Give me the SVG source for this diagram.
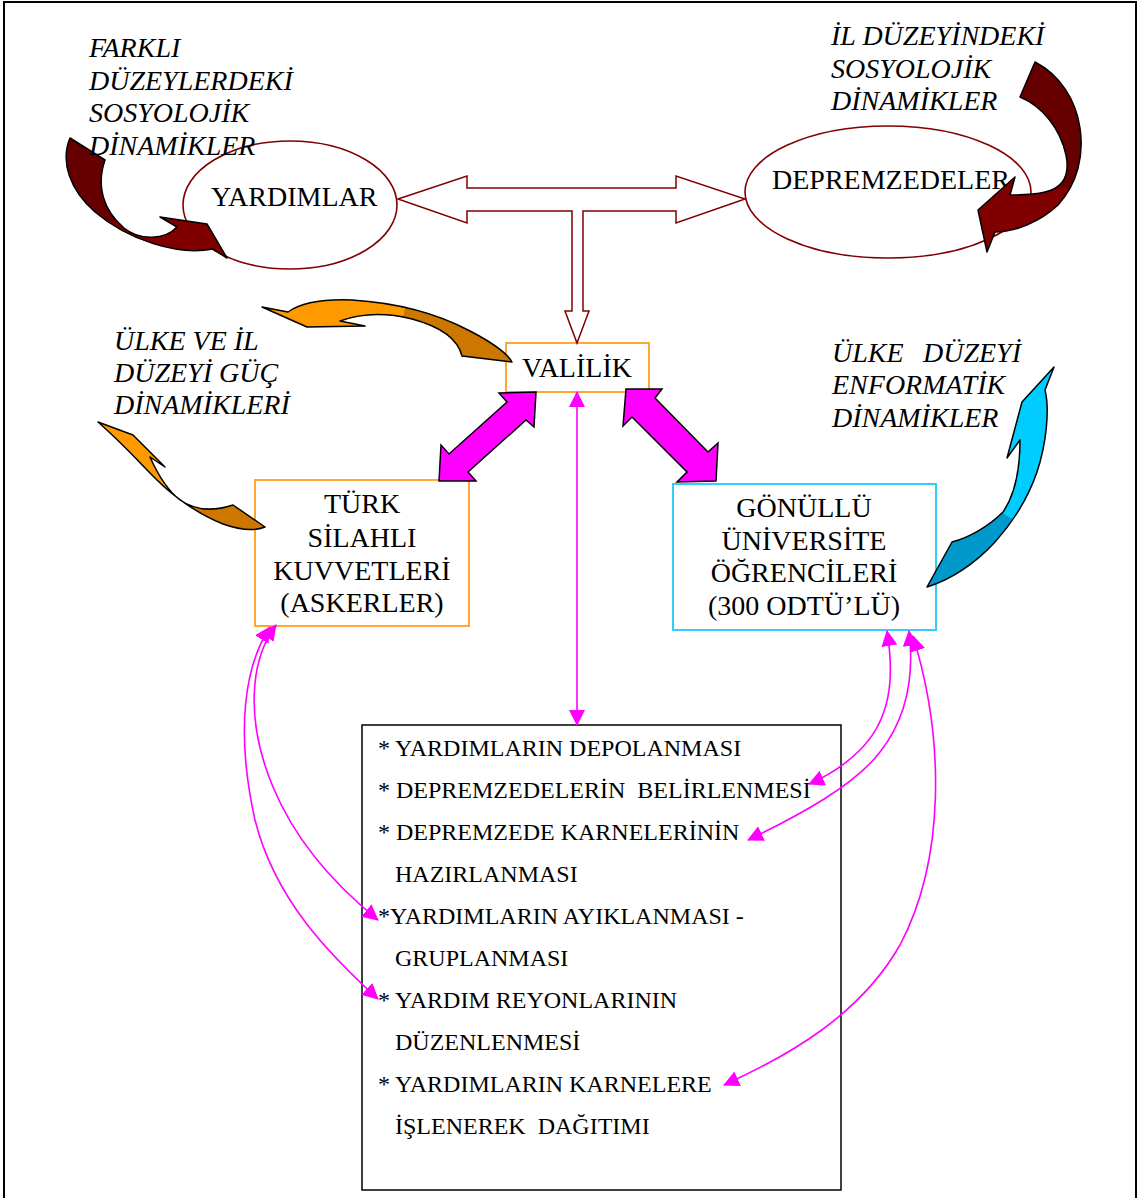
<svg xmlns="http://www.w3.org/2000/svg" width="1137" height="1198" viewBox="0 0 1137 1198">
<style>
.t{font-family:"Liberation Serif","Times New Roman",serif;fill:#000}
.it{font-family:"Liberation Serif","Times New Roman",serif;font-style:italic;font-size:28px;fill:#000}
.big{font-size:28px}
.lst{font-size:24px}
.ell{fill:#fff;stroke:#800000;stroke-width:1.6}
.blk{stroke:#000;stroke-width:1.5;stroke-linejoin:round}
.mag{fill:#FF00FF;stroke:#000;stroke-width:1.5;stroke-linejoin:miter}
.con{fill:none;stroke:#FF00FF;stroke-width:1.6}
</style>
<defs>
<marker id="ah" viewBox="0 0 16 16" refX="15" refY="8" markerWidth="16" markerHeight="16" markerUnits="userSpaceOnUse" orient="auto-start-reverse">
<path d="M0,0 L16,8 L0,16 Z" fill="#FF00FF"/>
</marker>
<linearGradient id="gTL" gradientUnits="userSpaceOnUse" x1="70" y1="140" x2="200" y2="250">
<stop offset="0.5" stop-color="#660000"/><stop offset="0.5" stop-color="#800000"/>
</linearGradient>
<linearGradient id="gTR" gradientUnits="userSpaceOnUse" x1="1060" y1="70" x2="1000" y2="250">
<stop offset="0.58" stop-color="#660000"/><stop offset="0.58" stop-color="#800000"/>
</linearGradient>
<linearGradient id="gO1" gradientUnits="userSpaceOnUse" x1="260" y1="310" x2="512" y2="362">
<stop offset="0.55" stop-color="#FF9900"/><stop offset="0.55" stop-color="#CC7700"/>
</linearGradient>
<linearGradient id="gO2" gradientUnits="userSpaceOnUse" x1="98" y1="422" x2="265" y2="530">
<stop offset="0.5" stop-color="#FF9900"/><stop offset="0.5" stop-color="#CC7700"/>
</linearGradient>
<linearGradient id="gC" gradientUnits="userSpaceOnUse" x1="1054" y1="367" x2="927" y2="587">
<stop offset="0.6" stop-color="#00CCFF"/><stop offset="0.6" stop-color="#0099CC"/>
</linearGradient>
</defs>
<rect x="4" y="2" width="1132" height="1215" fill="#fff" stroke="#000" stroke-width="2"/>

<g id="yardimlar">
<ellipse class="ell" cx="290" cy="205" rx="107" ry="64"/>
<text class="t big" x="211" y="206">YARDIMLAR</text>
</g>
<g id="depremzedeler">
<ellipse class="ell" cx="888" cy="192" rx="143" ry="66"/>
<text class="t big" x="772" y="189">DEPREMZEDELER</text>
</g>
<g id="valilik">
<rect x="506" y="343" width="143" height="49" fill="#fff" stroke="#FFA733" stroke-width="2"/>
<text class="t big" x="577" y="377" text-anchor="middle">VALİLİK</text>
</g>
<g id="tsk">
<rect x="255" y="480" width="214" height="146" fill="#fff" stroke="#FFA733" stroke-width="2"/>
<text class="t big" x="362" y="513" text-anchor="middle">TÜRK</text>
<text class="t big" x="362" y="547" text-anchor="middle">SİLAHLI</text>
<text class="t big" x="362" y="580" text-anchor="middle">KUVVETLERİ</text>
<text class="t big" x="362" y="612" text-anchor="middle">(ASKERLER)</text>
</g>
<g id="gonullu">
<rect x="673" y="484" width="263" height="146" fill="#fff" stroke="#33CCFF" stroke-width="2"/>
<text class="t big" x="804" y="517" text-anchor="middle">GÖNÜLLÜ</text>
<text class="t big" x="804" y="550" text-anchor="middle">ÜNİVERSİTE</text>
<text class="t big" x="804" y="582" text-anchor="middle">ÖĞRENCİLERİ</text>
<text class="t big" x="804" y="615" text-anchor="middle">(300 ODTÜ’LÜ)</text>
</g>
<g id="tasks">
<rect x="362" y="725" width="479" height="465" fill="#fff" stroke="#000" stroke-width="1.5"/>
<text class="t lst" xml:space="preserve" x="378" y="756">* YARDIMLARIN DEPOLANMASI</text>
<text class="t lst" xml:space="preserve" x="378" y="798">* DEPREMZEDELERİN  BELİRLENMESİ</text>
<text class="t lst" xml:space="preserve" x="378" y="840">* DEPREMZEDE KARNELERİNİN</text>
<text class="t lst" x="395" y="882">HAZIRLANMASI</text>
<text class="t lst" x="378" y="924">*YARDIMLARIN AYIKLANMASI -</text>
<text class="t lst" x="395" y="966">GRUPLANMASI</text>
<text class="t lst" xml:space="preserve" x="378" y="1008">* YARDIM REYONLARININ</text>
<text class="t lst" x="395" y="1050">DÜZENLENMESİ</text>
<text class="t lst" xml:space="preserve" x="378" y="1092">* YARDIMLARIN KARNELERE</text>
<text class="t lst" xml:space="preserve" x="395" y="1134">İŞLENEREK  DAĞITIMI</text>
</g>

<g id="arrow-topleft">
<path class="blk" fill="url(#gTL)" d="M70,138 L105,160 C96,186 103,210 124,228 C140,241 165,240 177,227 L160,217 L207,224 L227,258 L213,249 C178,256 128,240 95,212 C70,190 60,162 70,138 Z"/>
</g>
<g id="arrow-topright">
<path class="blk" fill="url(#gTR)" d="M1035,62 L1020,97 C1042,106 1060,128 1066,155 C1070,175 1063,188 1045,192 C1033,195 1020,195 1010,195 L1015,177 L978,210 L987,252 L995,232 C1015,232 1040,222 1058,205 C1078,183 1084,155 1080,128 C1076,100 1060,75 1035,62 Z"/>
</g>
<g id="arrow-orange-top">
<path class="blk" fill="url(#gO1)" d="M262,307 L288,312 C302,302 325,299 352,300 C400,303 440,315 470,331 C495,344 508,355 512,362 L462,356 C458,340 442,327 412,319 C388,313 362,313 340,321 L365,326 L307,327 Z"/>
</g>
<g id="arrow-orange-bottom">
<path class="blk" fill="url(#gO2)" d="M98,422 L133,435 L165,467 L150,457 C158,475 167,490 180,500 C196,511 215,511 233,505 L265,527 C255,531 240,530 223,524 C200,515 175,498 157,480 C138,461 122,443 98,422 Z"/>
</g>
<g id="arrow-cyan">
<path class="blk" fill="url(#gC)" d="M927,587 L952,542 C968,538 988,527 1003,512 C1014,496 1020,470 1020,440 L1007,458 L1022,402 L1054,367 L1045,390 C1050,410 1046,445 1037,472 C1028,498 1013,522 995,542 C975,564 950,580 927,587 Z"/>
</g>

<g id="label-farkli">
<text class="it" x="89" y="57">FARKLI</text>
<text class="it" x="89" y="90">DÜZEYLERDEKİ</text>
<text class="it" x="89" y="122">SOSYOLOJİK</text>
<text class="it" x="89" y="155">DİNAMİKLER</text>
</g>
<g id="label-il">
<text class="it" x="831" y="45">İL DÜZEYİNDEKİ</text>
<text class="it" x="831" y="78">SOSYOLOJİK</text>
<text class="it" x="831" y="110">DİNAMİKLER</text>
</g>
<g id="label-guc">
<text class="it" x="114" y="350">ÜLKE VE İL</text>
<text class="it" x="114" y="382">DÜZEYİ GÜÇ</text>
<text class="it" x="114" y="414">DİNAMİKLERİ</text>
</g>
<g id="label-enf">
<text class="it" x="832" y="362">ÜLKE</text>
<text class="it" x="923" y="362">DÜZEYİ</text>
<text class="it" x="832" y="394">ENFORMATİK</text>
<text class="it" x="832" y="427">DİNAMİKLER</text>
</g>

<g id="connectors">
<path fill="#fff" stroke="#800000" stroke-width="1.5" d="M398,199 L467,176 L467,188 L676,188 L676,176 L745,199 L676,223 L676,211 L583,211 L583,311 L589,311 L577,343 L565,311 L572,311 L572,211 L467,211 L467,223 Z"/>
<polygon class="mag" points="499,393 536,392 534,427 526,420 468,472 476,481 439,481 441,445 449,454 507,402"/>
<polygon class="mag" points="626,389 662,389 655,398 708,452 718,443 716,481 677,482 687,472 632,417 623,426"/>
<path class="con" d="M577,392 L577,725" marker-start="url(#ah)" marker-end="url(#ah)"/>
<path class="con" d="M276,625 C250,660 245,720 273,787 C295,840 335,885 378,920" marker-start="url(#ah)" marker-end="url(#ah)"/>
<path class="con" d="M270,627 C245,665 235,730 255,820 C275,900 330,955 378,999" marker-start="url(#ah)" marker-end="url(#ah)"/>
<path class="con" d="M887,631 C895,680 890,720 860,750 C845,765 830,775 809,784" marker-start="url(#ah)" marker-end="url(#ah)"/>
<path class="con" d="M909,631 C915,680 905,720 880,752 C855,785 800,815 748,840" marker-start="url(#ah)" marker-end="url(#ah)"/>
<path class="con" d="M913,636 C945,740 945,860 900,945 C860,1015 790,1055 724,1085" marker-start="url(#ah)" marker-end="url(#ah)"/>
</g>
</svg>
